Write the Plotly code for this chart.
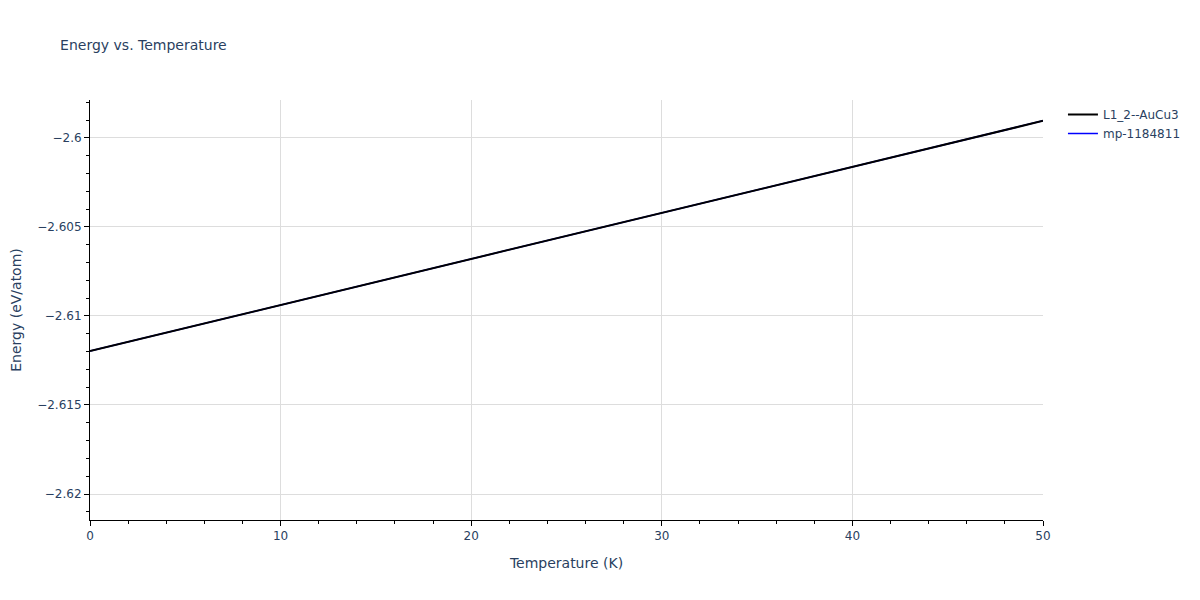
import plotly.graph_objects as go

# temperature (K) and energy (eV/atom) for both structures
temperature = [0, 10, 20, 30, 40, 50]
energy_l12 = [-2.61197, -2.60938, -2.60680, -2.60421, -2.60163, -2.59904]
energy_mp = [-2.61197, -2.60938, -2.60680, -2.60421, -2.60163, -2.59904]

fig = go.Figure()
# blue one drawn first (a bit thinner) so black sits on top
fig.add_trace(go.Scatter(x=temperature, y=energy_mp, mode="lines",
                         name="mp-1184811", line=dict(color="blue", width=1.5)))
fig.add_trace(go.Scatter(x=temperature, y=energy_l12, mode="lines",
                         name="L1_2--AuCu3", line=dict(color="black", width=2)))

axis_style = dict(showline=True, linecolor="black", linewidth=1,
                  ticks="outside", tickcolor="black", ticklen=5,
                  gridcolor="#dddddd", zeroline=False, automargin=False)

# page body has an 8px margin, so the figure is sized/margined to land like the reference
fig.update_layout(
    template="plotly_white",
    width=1184, height=584,
    font=dict(family="DejaVu Sans", size=12),
    title=dict(text="Energy vs. Temperature", font=dict(size=14),
               x=0.044, xanchor="left", y=0.937, yanchor="middle", yref="container"),
    margin=dict(l=82, r=149, t=92, b=72, autoexpand=False),
    legend=dict(traceorder="reversed", xref="container", x=0.891, xanchor="left",
                y=1, yanchor="top"),
    xaxis=dict(title="Temperature (K)", range=[0, 50], dtick=10,
               minor=dict(ticks="outside", dtick=2, tickcolor="black", ticklen=3, showgrid=False),
               **axis_style),
    yaxis=dict(title=dict(text="Energy (eV/atom)", standoff=22),
               range=[-2.62146, -2.59787], dtick=0.005,
               minor=dict(ticks="outside", dtick=0.001, tickcolor="black", ticklen=3, showgrid=False),
               **axis_style),
)

fig.write_html("out.html")
